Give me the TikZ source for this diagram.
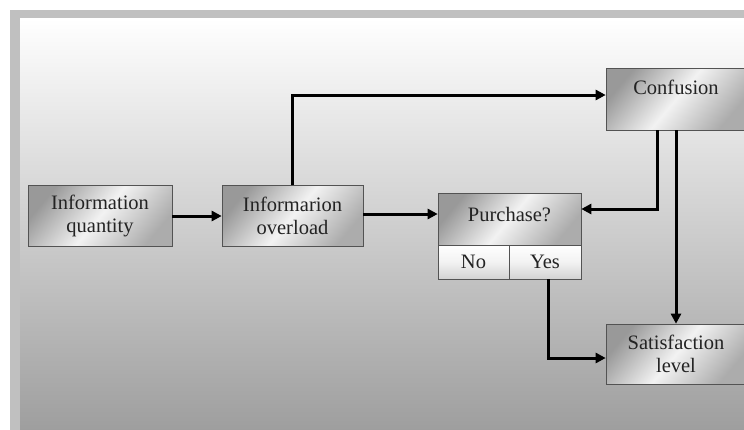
\documentclass[tikz,border=0pt]{standalone}
\usepackage{fontspec}
\setmainfont{Liberation Serif}
\usetikzlibrary{arrows.meta}
\definecolor{bgbot}{RGB}{158,158,158}
\definecolor{bgmid}{RGB}{208,208,208}
\definecolor{frame}{RGB}{192,192,192}
\definecolor{txt}{RGB}{35,35,35}
\tikzset{
  box/.style={draw=gray!65!black, line width=0.6pt, inner sep=0pt,
    left color=gray!80, right color=gray!65, middle color=white!90!gray,
    shading angle=50, align=center, text=txt,
    font=\fontsize{20.5}{23}\selectfont},
  cell/.style={draw=gray!65!black, line width=0.6pt, inner sep=0pt,
    top color=white, bottom color=gray!35, middle color=white!90!gray,
    text=txt, font=\fontsize{20.5}{23}\selectfont},
  flow/.style={line width=3pt, -{Triangle[length=10pt,width=10pt]}},
}
\begin{document}
\begin{tikzpicture}[x=1pt,y=-1pt]
\useasboundingbox (0,0) rectangle (744,429);
\clip (0,0) rectangle (744,429);
\fill[white] (0,0) rectangle (744,429);
\fill[frame] (10,10) rectangle (746,431);
\shade[top color=white, middle color=bgmid, bottom color=bgbot] (20,18) rectangle (746,431);

\node[box, minimum width=144pt, minimum height=61pt] (iq) at (100,216) {Information\\quantity};
\node[box, minimum width=141pt, minimum height=61pt] (io) at (292.5,216) {Informarion\\overload};
\node[box, minimum width=143pt, minimum height=52pt] (pur) at (509.5,219) {\raisebox{10pt}{Purchase?}};
\node[cell, minimum width=71pt, minimum height=34pt] (no) at (473.5,262) {No};
\node[cell, minimum width=72pt, minimum height=34pt] (yes) at (545,262) {Yes};
\node[box, minimum width=140pt, minimum height=62pt] (conf) at (676,99) {\raisebox{24pt}{Confusion}};
\node[box, minimum width=140pt, minimum height=60pt] (sat) at (676,354) {Satisfaction\\level};

\draw[flow] (iq.east) -- (io.west);
\draw[flow] ([yshift=2pt]io.east) -- ([yshift=2pt]io.east -| pur.west);
\draw[flow] (io.north) |- ([yshift=4pt]conf.west);
\draw[flow] ([xshift=-19pt]conf.south) |- ([yshift=10pt]pur.east);
\draw[flow] (conf.south) -- (sat.north);
\draw[flow] ([xshift=3pt]yes.south) |- ([yshift=-4pt]sat.west);
\end{tikzpicture}
\end{document}
